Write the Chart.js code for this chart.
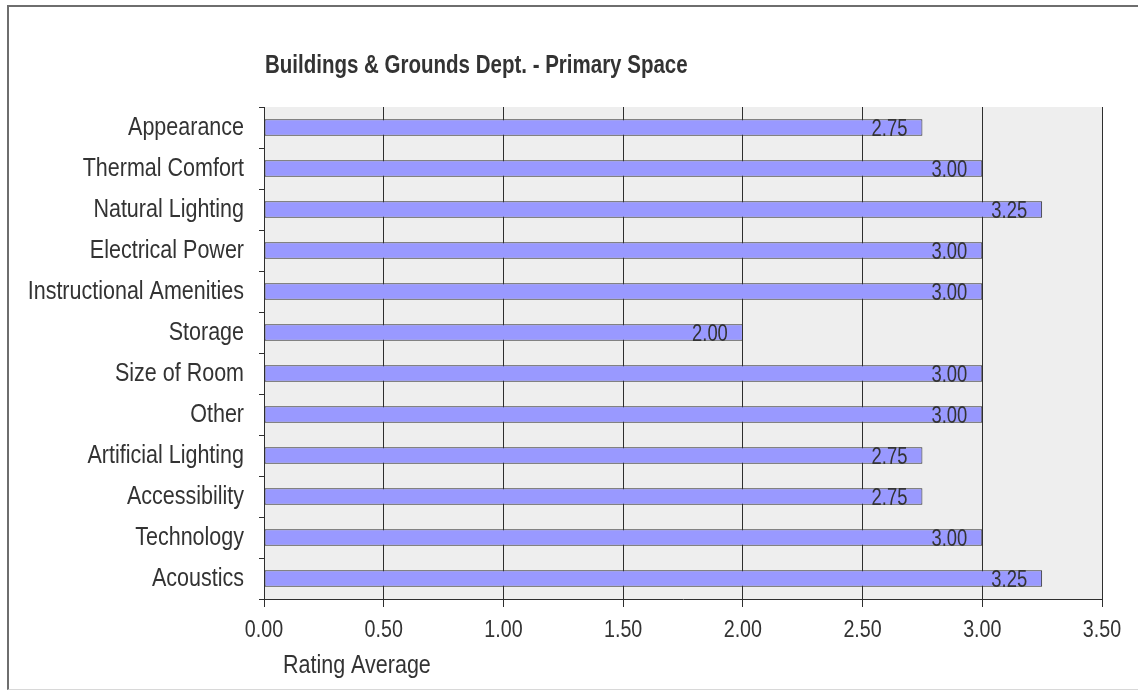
<!DOCTYPE html>
<html>
<head>
<meta charset="utf-8">
<script src="https://cdn.jsdelivr.net/npm/chart.js@4"></script>
<style>
  html, body { margin: 0; padding: 0; background: #fff; overflow: hidden; }
  #frame {
    position: absolute; left: 7px; top: 5px; width: 1150px; height: 685px;
    border: 2px solid #6e6e6e; border-bottom: 1px solid #d8d8d8; box-sizing: border-box;
  }
  #wrap { position: absolute; left: 0; top: 0; width: 1138px; height: 690px; }
</style>
</head>
<body>
<div id="frame"></div>
<div id="wrap"><canvas id="chart" width="1138" height="690"></canvas></div>
<script>
// categories and values
const categories = [
  "Appearance",
  "Thermal Comfort",
  "Natural Lighting",
  "Electrical Power",
  "Instructional Amenities",
  "Storage",
  "Size of Room",
  "Other",
  "Artificial Lighting",
  "Accessibility",
  "Technology",
  "Acoustics",
];
const ratingAverage = [2.75, 3.0, 3.25, 3.0, 3.0, 2.0, 3.0, 3.0, 2.75, 2.75, 3.0, 3.25];
const xTicks = [0, 0.5, 1, 1.5, 2, 2.5, 3, 3.5];

const chartTitle = "Buildings & Grounds Dept. - Primary Space";
const axisTitle = "Rating Average";

const FONT = "'Liberation Sans', Arial, sans-serif";
const TEXT = "#333333";

// узкий текст: сжимаем по горизонтали
function narrowText(ctx, text, x, y, font, sx, align) {
  ctx.save();
  ctx.font = font;
  ctx.textAlign = align;
  ctx.textBaseline = "alphabetic";
  ctx.translate(x, y);
  ctx.scale(sx, 1);
  ctx.fillText(text, 0, 0);
  ctx.restore();
}

// фон области графика, заголовки, подписи осей и значений
const extras = {
  id: "extras",
  beforeDraw(chart) {
    const { ctx, chartArea } = chart;
    ctx.save();
    ctx.fillStyle = "#eeeeee";
    ctx.fillRect(chartArea.left, chartArea.top, chartArea.right - chartArea.left, chartArea.bottom - chartArea.top);
    ctx.restore();
  },
  afterDraw(chart) {
    const { ctx, chartArea } = chart;
    const xs = chart.scales.x;
    const ys = chart.scales.y;
    ctx.save();
    ctx.fillStyle = TEXT;

    narrowText(ctx, chartTitle, chartArea.left + 1, 73, "bold 25px " + FONT, 0.82, "left");
    narrowText(ctx, axisTitle, chartArea.left + 19, 673, "25px " + FONT, 0.86, "left");

    // подписи категорий
    categories.forEach((c, i) => {
      narrowText(ctx, c, 244, ys.getPixelForValue(i) + 7, "25px " + FONT, 0.86, "right");
    });

    // подписи оси X
    xTicks.forEach((v) => {
      narrowText(ctx, v.toFixed(2), xs.getPixelForValue(v), 637, "24px " + FONT, 0.82, "center");
    });

    // значения на столбцах
    const meta = chart.getDatasetMeta(0);
    meta.data.forEach((bar, i) => {
      narrowText(ctx, ratingAverage[i].toFixed(2), bar.x - 15, bar.y + 8, "23px " + FONT, 0.8, "right");
    });
    ctx.restore();
  },
};

new Chart(document.getElementById("chart"), {
  type: "bar",
  data: {
    labels: categories,
    datasets: [
      {
        label: axisTitle,
        data: ratingAverage,
        backgroundColor: "#9999ff",
        borderColor: "#2e2e2e",
        borderWidth: 1,
        borderSkipped: false,
        categoryPercentage: 1,
        barPercentage: 0.4,
      },
    ],
  },
  options: {
    indexAxis: "y",
    responsive: false,
    animation: false,
    events: [],
    layout: { padding: { top: 107, right: 36, left: 0, bottom: 0 } },
    plugins: {
      legend: { display: false },
      title: { display: false },
      tooltip: { enabled: false },
    },
    scales: {
      x: {
        type: "linear",
        min: 0,
        max: 3.5,
        afterBuildTicks(scale) {
          scale.ticks = xTicks.map((v) => ({ value: v }));
        },
        afterFit(scale) {
          scale.height = 91;
        },
        ticks: { display: false },
        grid: {
          color: "#2e2e2e",
          lineWidth: 1,
          tickLength: 8,
          drawOnChartArea: true,
        },
        border: { display: true, color: "#2e2e2e", width: 1 },
      },
      y: {
        type: "category",
        afterFit(scale) {
          scale.width = 264;
        },
        ticks: { display: false },
        grid: {
          offset: true,
          drawOnChartArea: false,
          color: "#2e2e2e",
          tickLength: 5,
        },
        border: { display: true, color: "#2e2e2e", width: 1 },
      },
    },
  },
  plugins: [extras],
});
</script>
</body>
</html>
